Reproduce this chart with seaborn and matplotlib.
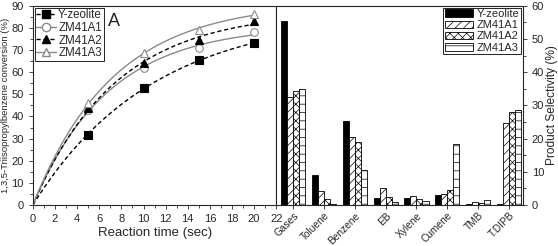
import seaborn as sns
import matplotlib.pyplot as plt
import numpy as np
import pandas as pd
from matplotlib.lines import Line2D
from matplotlib.patches import Patch

sns.set_style("ticks")
plt.rcParams['font.family'] = ['Liberation Sans', 'DejaVu Sans']
plt.rcParams['hatch.linewidth'] = 0.5

# panel A: conversion vs reaction time
tiempo = [0, 5, 10, 15, 20]
conv_y = [0, 31.5, 53, 65.5, 73]
conv_a1 = [0, 43, 62, 71, 78]
conv_a2 = [0, 44, 64, 74.5, 83]
conv_a3 = [0, 46, 68.5, 79, 86.5]

# panel B: product selectivity
productos = ["Gases", "Toluene", "Benzene", "EB", "Xylene", "Cumene", "TMB", "T.DIPB"]
sel_y = [55.5, 9.1, 25.2, 2.2, 2.0, 3.1, 0.4, 0.3]
sel_a1 = [32.4, 4.1, 20.5, 5.0, 2.7, 3.3, 1.0, 24.6]
sel_a2 = [34.4, 1.7, 19.1, 2.5, 1.7, 4.4, 0.6, 28.1]
sel_a3 = [34.9, 0.4, 10.5, 0.8, 1.1, 18.4, 1.4, 28.6]

muestras = ["Y-zeolite", "ZM41A1", "ZM41A2", "ZM41A3"]


def ajuste_exp(t, c):
    # y = a*(1-exp(-b*t)), b por barrido y a por minimos cuadrados
    t = np.asarray(t, float)
    c = np.asarray(c, float)
    mejor = None
    for b in np.linspace(0.01, 0.5, 500):
        g = 1 - np.exp(-b * t)
        a = (g @ c) / (g @ g)
        err = np.sum((a * g - c) ** 2)
        if mejor is None or err < mejor[0]:
            mejor = (err, a, b)
    return mejor[1], mejor[2]


fig = plt.figure(figsize=(5.58, 2.46), dpi=100)
axA = fig.add_axes([0.059, 0.167, 0.436, 0.809])
axB = fig.add_axes([0.495, 0.167, 0.442, 0.809])

#Grafica A
estilos = [
    dict(y=conv_y, ls=(0, (3, 2)), lc="black", marker="s", mfc="black", mec="black"),
    dict(y=conv_a1, ls="-", lc="#8a8a8a", marker="o", mfc="white", mec="#8a8a8a"),
    dict(y=conv_a2, ls=(0, (3, 2)), lc="black", marker="^", mfc="black", mec="black"),
    dict(y=conv_a3, ls="-", lc="#8a8a8a", marker="^", mfc="white", mec="#8a8a8a"),
]
t_fino = np.linspace(0, 20, 120)
handles = []
for nombre, e in zip(muestras, estilos):
    a, b = ajuste_exp(tiempo, e["y"])
    curva = pd.DataFrame({"t": t_fino, "c": a * (1 - np.exp(-b * t_fino))})
    sns.lineplot(data=curva, x="t", y="c", ax=axA, color=e["lc"], lw=1.0, linestyle=e["ls"])
    puntos = pd.DataFrame({"t": tiempo[1:], "c": e["y"][1:]})
    axA.plot(puntos["t"], puntos["c"], ls="none", marker=e["marker"], ms=5.5,
             mfc=e["mfc"], mec=e["mec"], mew=0.8)
    handles.append(Line2D([], [], color=e["lc"], ls=e["ls"], lw=1.0, marker=e["marker"],
                          ms=6, mfc=e["mfc"], mec=e["mec"], label=nombre))

axA.set_xlim(0, 22)
axA.set_ylim(0, 90)
axA.set_xticks(range(0, 23, 2))
axA.set_xticks(range(1, 23, 2), minor=True)
axA.set_yticks(range(0, 91, 10))
axA.set_yticks(range(5, 91, 10), minor=True)
axA.tick_params(labelsize=8, length=3, width=0.6)
axA.tick_params(which="minor", length=2, width=0.6)
axA.set_xlabel("Reaction time (sec)", fontsize=9.5, labelpad=2)
axA.set_ylabel("1,3,5-Triisopropylbenzene conversion (%)", fontsize=6.8, labelpad=1)
legA = axA.legend(handles=handles, loc="upper left", fontsize=8.3, frameon=True, fancybox=False,
                  edgecolor="black", borderpad=0.15, labelspacing=0.05, handlelength=1.7,
                  handletextpad=0.2, borderaxespad=0.15, framealpha=1)
legA.get_frame().set_linewidth(0.6)
axA.text(6.8, 81, "A", fontsize=13)

#Grafica B
tabla = pd.DataFrame({
    "producto": productos * 4,
    "muestra": sum([[m] * len(productos) for m in muestras], []),
    "sel": sel_y + sel_a1 + sel_a2 + sel_a3,
})
sns.barplot(data=tabla, x="producto", y="sel", hue="muestra", order=productos,
            hue_order=muestras, width=0.78, ax=axB, legend=False,
            palette=["black", "white", "white", "white"], edgecolor="black", linewidth=0.6)
hatches = [None, "////", "xxxx", "--"]
n = len(productos)
for i, p in enumerate(axB.patches[:4 * n]):
    h = hatches[i // n]
    if h:
        p.set_hatch(h)
legH = [Patch(facecolor=c, edgecolor="black", hatch=h, lw=0.6, label=m)
        for m, c, h in zip(muestras, ["black", "white", "white", "white"], hatches)]
legB = axB.legend(handles=legH, loc="upper right", fontsize=8, frameon=True, fancybox=False,
                  edgecolor="black", borderpad=0.15, labelspacing=0.1, handlelength=2.6,
                  handletextpad=0.3, borderaxespad=0.15, framealpha=1)
legB.get_frame().set_linewidth(0.6)
axB.text(0.68, 0.895, "B", fontsize=13, transform=axB.transAxes)

axB.set_xlim(-0.55, 7.45)
axB.set_ylim(0, 60)
axB.yaxis.tick_right()
axB.yaxis.set_label_position("right")
axB.set_yticks(range(0, 61, 10))
axB.set_yticks(range(5, 61, 10), minor=True)
axB.tick_params(labelsize=8, length=3, width=0.6)
axB.tick_params(which="minor", length=2, width=0.6)
axB.tick_params(axis="x", labelsize=7.3, pad=1)
for lbl in axB.get_xticklabels():
    lbl.set_rotation(45)
    lbl.set_ha("right")
    lbl.set_va("top")
    lbl.set_rotation_mode("anchor")
axB.set_xlabel("")
axB.set_ylabel("Product Selectivity (%)", fontsize=8.6, labelpad=1)

for ax in (axA, axB):
    for s in ax.spines.values():
        s.set_visible(True)
        s.set_linewidth(0.8)

fig.savefig("out.png", dpi=100)
